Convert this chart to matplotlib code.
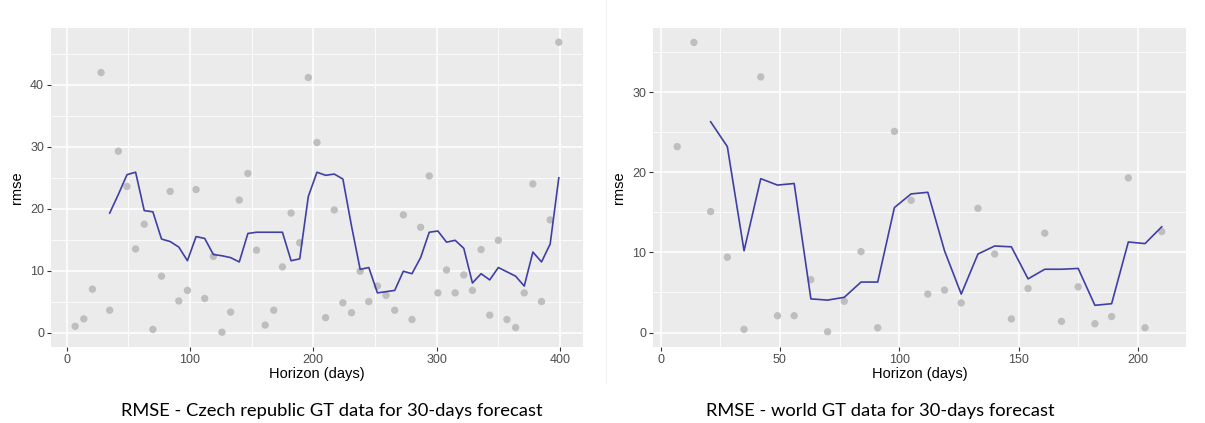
import matplotlib
matplotlib.use("Agg")
import matplotlib.pyplot as plt
from matplotlib.ticker import MultipleLocator

plt.rcParams["font.family"] = ["Liberation Sans", "DejaVu Sans"]

# -- data --

# Czech republic: weekly horizons 7..399
cz_days = list(range(7, 400, 7))
cz_rmse = [1.0, 2.2, 7.0, 42.0, 3.6, 29.3, 23.6, 13.5, 17.5, 0.5,
           9.1, 22.8, 5.1, 6.8, 23.1, 5.5, 12.3, 0.05, 3.3, 21.4,
           25.7, 13.3, 1.2, 3.6, 10.6, 19.3, 14.5, 41.2, 30.7, 2.4,
           19.8, 4.8, 3.2, 9.9, 5.0, 7.5, 6.0, 3.6, 19.0, 2.1,
           17.0, 25.3, 6.4, 10.1, 6.4, 9.3, 6.8, 13.4, 2.8, 14.9,
           2.1, 0.8, 6.4, 24.0, 5.0, 18.2, 46.9]
cz_line_days = list(range(35, 400, 7))
cz_line = [19.3, 22.3, 25.5, 25.9, 19.7, 19.5, 15.1, 14.7, 13.8, 11.6,
           15.5, 15.2, 12.6, 12.4, 12.1, 11.4, 16.0, 16.2, 16.2, 16.2,
           16.2, 11.6, 11.9, 22.0, 25.9, 25.4, 25.6, 24.8, 17.2, 10.2,
           10.5, 6.4, 6.6, 6.8, 9.9, 9.5, 12.1, 16.2, 16.4, 14.6,
           14.9, 13.6, 8.0, 9.5, 8.5, 10.5, 9.8, 9.1, 7.5, 13.0,
           11.4, 14.3, 25.0]

# world: weekly horizons 7..210
w_days = list(range(7, 211, 7))
w_rmse = [23.2, 36.2, 15.1, 9.4, 0.4, 31.9, 2.1, 2.1, 6.6, 0.1,
          3.9, 10.1, 0.6, 25.1, 16.5, 4.8, 5.3, 3.7, 15.5, 9.8,
          1.7, 5.5, 12.4, 1.4, 5.7, 1.1, 2.0, 19.3, 0.6, 12.6]
w_line_days = list(range(21, 211, 7))
w_line = [26.3, 23.2, 10.2, 19.2, 18.4, 18.6, 4.2, 4.05, 4.4, 6.3,
          6.3, 15.6, 17.3, 17.5, 10.2, 4.8, 9.8, 10.8, 10.7, 6.7,
          7.9, 7.9, 8.0, 3.4, 3.6, 11.3, 11.1, 13.2]

captions = ["RMSE - Czech republic GT data for 30-days forecast",
            "RMSE - world GT data for 30-days forecast"]

fig = plt.figure(figsize=(12.05, 4.23), dpi=100)
fig.patch.set_facecolor("white")

ax1 = fig.add_axes([0.0423, 0.1797, 0.4415, 0.7541])
ax2 = fig.add_axes([0.5419, 0.1797, 0.4423, 0.7541])


def gg_panel(ax, xs, ys, lx, ly, xmaj, ymaj, xlim, ylim):
    ax.set_facecolor("#EBEBEB")
    ax.scatter(xs, ys, s=28, color="#BEBEBE", edgecolors="none", zorder=3)
    ax.plot(lx, ly, color="#3F3FA6", lw=1.2, zorder=4)
    ax.set_xlim(*xlim)
    ax.set_ylim(*ylim)
    ax.xaxis.set_major_locator(MultipleLocator(xmaj))
    ax.xaxis.set_minor_locator(MultipleLocator(xmaj / 2))
    ax.yaxis.set_major_locator(MultipleLocator(ymaj))
    ax.yaxis.set_minor_locator(MultipleLocator(ymaj / 2))
    ax.grid(which="major", color="white", lw=1.1, zorder=0)
    ax.grid(which="minor", color="white", lw=0.55, zorder=0)
    ax.set_axisbelow(True)
    for s in ax.spines.values():
        s.set_visible(False)
    ax.tick_params(which="major", length=3, width=0.8, color="#333333",
                   labelsize=9, labelcolor="#4D4D4D", pad=2)
    ax.tick_params(which="minor", length=0)
    ax.set_xlabel("Horizon (days)", fontsize=10.5, labelpad=1)
    ax.set_ylabel("rmse", fontsize=10.5, labelpad=4)


gg_panel(ax1, cz_days, cz_rmse, cz_line_days, cz_line, 100, 10,
         (-12.6, 418.6), (-2.34, 49.2))
gg_panel(ax2, w_days, w_rmse, w_line_days, w_line, 50, 10,
         (-3.15, 220.15), (-1.8, 38.0))

# faint edge between the two pasted images
fig.add_artist(plt.Line2D([606 / 1205, 606 / 1205], [40 / 423, 1.0],
                          color="#F4F4F4", lw=0.8))

fig.text(332 / 1205, 1 - 411 / 423, captions[0], ha="center", va="center",
         family="Lato", fontsize=13.2, color="black")
fig.text(880 / 1205, 1 - 411 / 423, captions[1], ha="center", va="center",
         family="Lato", fontsize=13.2, color="black")

fig.savefig("out.png", dpi=100, facecolor="white")
